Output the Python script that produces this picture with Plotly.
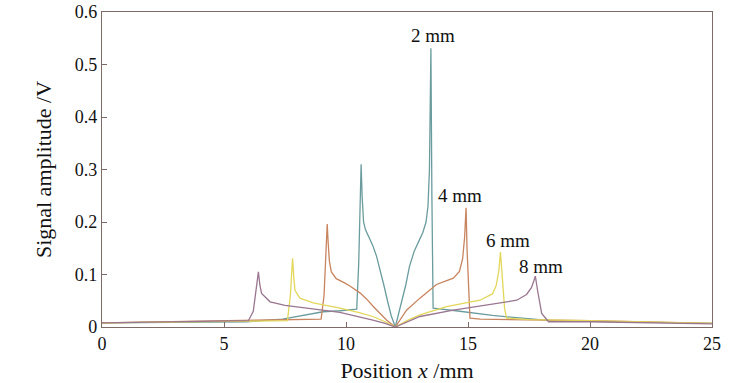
import plotly.graph_objects as go

# ---- data ----
x_2mm = [0, 3, 5.9, 7.4, 9.06, 9.75, 10.44, 10.52, 10.58, 10.62, 10.66, 10.72, 10.8, 10.95, 11.1, 11.25, 11.4, 11.55,
         11.7, 11.85, 12.02, 12.15, 12.3, 12.45, 12.6, 12.8, 13.0, 13.15, 13.28, 13.36, 13.42, 13.46, 13.48, 13.52, 13.57,
         14.5, 16, 18.4, 20, 25]
y_2mm = [0.008, 0.009, 0.010, 0.015, 0.029, 0.031, 0.034, 0.12, 0.25, 0.31, 0.25, 0.2, 0.185, 0.17, 0.155, 0.135, 0.11, 0.08,
         0.05, 0.022, 0.0, 0.025, 0.05, 0.08, 0.115, 0.145, 0.165, 0.18, 0.2, 0.23, 0.3, 0.45, 0.531, 0.25, 0.036,
         0.031, 0.022, 0.012, 0.011, 0.007]

x_4mm = [0, 5, 8.0, 8.98, 9.1, 9.18, 9.23, 9.27, 9.32, 9.4, 9.6, 9.9, 10.16, 10.57, 10.85, 11.1, 11.4, 11.67, 12.02,
         12.25, 12.48, 13.03, 13.4, 13.71, 14.1, 14.4, 14.65, 14.78, 14.86, 14.92, 14.96, 15.03, 15.08, 15.5, 20, 25]
y_4mm = [0.008, 0.012, 0.013, 0.015, 0.06, 0.15, 0.196, 0.16, 0.125, 0.105, 0.092, 0.085, 0.078, 0.065, 0.053, 0.04, 0.026, 0.013, 0.0,
         0.017, 0.032, 0.055, 0.07, 0.081, 0.088, 0.093, 0.106, 0.13, 0.17, 0.227, 0.15, 0.05, 0.017, 0.015, 0.012, 0.007]

x_6mm = [0, 4, 7.6, 7.72, 7.78, 7.81, 7.86, 7.91, 8.11, 8.66, 9.75, 10.5, 11.1, 11.6, 12.02,
         12.5, 13.03, 14.12, 15.49, 16.0, 16.15, 16.27, 16.33, 16.4, 16.5, 16.58, 17.5, 20, 25]
y_6mm = [0.008, 0.010, 0.012, 0.06, 0.11, 0.131, 0.095, 0.07, 0.055, 0.046, 0.036, 0.028, 0.02, 0.01, 0.0,
         0.012, 0.023, 0.039, 0.051, 0.063, 0.078, 0.109, 0.143, 0.09, 0.035, 0.017, 0.014, 0.012, 0.007]

x_8mm = [0, 3, 6.0, 6.2, 6.32, 6.41, 6.47, 6.54, 6.89, 7.5, 8.39, 9.75, 11.1, 11.6, 12.02,
         12.5, 13.03, 14.4, 15.76, 17.0, 17.4, 17.6, 17.7, 17.76, 17.85, 18.02, 18.3, 20, 25]
y_8mm = [0.008, 0.010, 0.012, 0.03, 0.07, 0.105, 0.08, 0.064, 0.048, 0.041, 0.036, 0.028, 0.013, 0.007, 0.0,
         0.01, 0.02, 0.032, 0.042, 0.051, 0.062, 0.075, 0.088, 0.097, 0.07, 0.026, 0.01, 0.01, 0.006]

series_names = ["2 mm", "4 mm", "6 mm", "8 mm"]
series_x = [x_2mm, x_4mm, x_6mm, x_8mm]
series_y = [y_2mm, y_4mm, y_6mm, y_8mm]
colors = ["#6a9c9e", "#c8845e", "#e2d75a", "#9a7690"]

label_x = [13.55, 14.67, 16.64, 18.0]
label_y = [0.556, 0.25, 0.165, 0.116]

x_ticks = [0, 5, 10, 15, 20, 25]
y_ticks = [0, 0.1, 0.2, 0.3, 0.4, 0.5, 0.6]
y_ticklabels = ["0", "0.1", "0.2", "0.3", "0.4", "0.5", "0.6"]

FONT = "Liberation Serif"
fig = go.Figure()
for name, xs, ys, c in zip(series_names, series_x, series_y, colors):
    fig.add_trace(go.Scatter(x=xs, y=ys, mode="lines", name=name,
                             line=dict(color=c, width=1.3)))

for name, lx, ly in zip(series_names, label_x, label_y):
    fig.add_annotation(x=lx, y=ly, text=name, showarrow=False,
                       font=dict(family=FONT, size=19, color="#111"))

axis_color = "#7d6b67"
fig.update_layout(
    width=750, height=383,
    margin=dict(l=102, r=38, t=12, b=56),
    paper_bgcolor="white", plot_bgcolor="white",
    showlegend=False,
    font=dict(family=FONT, size=18, color="#111"),
)
fig.update_xaxes(range=[0, 25], tickvals=x_ticks, ticks="inside", ticklen=5,
                 tickcolor=axis_color, showline=True, linecolor=axis_color, linewidth=1.2,
                 mirror=True, showgrid=False, zeroline=False, automargin=False,
                 title=dict(text="Position <i>x</i> /mm", standoff=9),
                 tickfont=dict(family=FONT, size=18))
fig.update_yaxes(range=[0, 0.6], tickvals=y_ticks, ticktext=y_ticklabels, ticks="inside", ticklen=5,
                 tickcolor=axis_color, showline=True, linecolor=axis_color, linewidth=1.2,
                 mirror=True, showgrid=False, zeroline=False, automargin=False,
                 title=dict(text="Signal amplitude /V", standoff=17),
                 tickfont=dict(family=FONT, size=18))

# remove the browser's default body margin so the figure fills the window exactly
fig.write_html("out.html", config={"displayModeBar": False},
               post_script="document.body.style.margin='0';")
